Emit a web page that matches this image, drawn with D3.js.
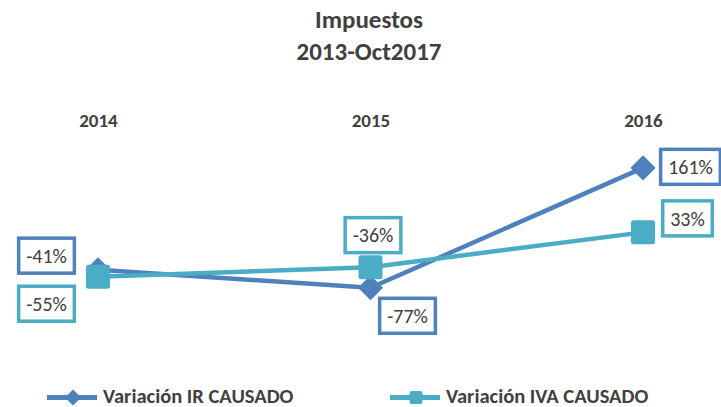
<!DOCTYPE html>
<html><head><meta charset="utf-8">
<script src="https://cdn.jsdelivr.net/npm/d3@7"></script>
<style>
body{margin:0;background:#fff;}
svg{display:block;font-family:Carlito,Calibri,Lato,"Open Sans",sans-serif;}
</style></head><body>
<svg id="c" width="721" height="407"></svg>
<script>
const categories = ["2014","2015","2016"];
const seriesNames = ["Variación IR CAUSADO","Variación IVA CAUSADO"];
const irValues = [-41, -77, 161];
const ivaValues = [-55, -36, 33];
const titleLines = ["Impuestos","2013-Oct2017"];

const colors = ["#4F81BD","#4BACC6"];
const textColor = "#404040";
// label box center offsets from the point (layout only)
const labelOffsets = [
  [[-51.5,-14],[37,28],[47.5,-1]],
  [[-51.5,27],[2.5,-32],[44.5,-14]]
];

const svg = d3.select("#c");
const x = d3.scalePoint().domain(categories).range([98,643]);
const y = d3.scaleLinear().domain([-100,200]).range([299.4,148.2]);

// title
svg.append("text").attr("x",369).attr("y",28).attr("text-anchor","middle")
  .attr("font-size",25).attr("font-weight","bold").attr("fill",textColor).text(titleLines[0]);
svg.append("text").attr("x",369).attr("y",60).attr("text-anchor","middle")
  .attr("font-size",25).attr("font-weight","bold").attr("fill",textColor).text(titleLines[1]);

// category axis at top
const ax = svg.append("g").attr("transform","translate(0,127)")
  .call(d3.axisTop(x).tickSize(0).tickPadding(0));
ax.select(".domain").remove();
ax.selectAll("text").attr("font-size",19).attr("font-weight","bold").attr("fill",textColor)
  .attr("font-family","Carlito,Calibri,Lato,sans-serif");

const series = [irValues, ivaValues];
const line = d3.line().x((d,i)=>x(categories[i])).y(d=>y(d));

function marker(g, type, cx, cy, color, s){
  if(type===0){
    g.append("path").attr("d",`M${cx},${cy-s}L${cx+s},${cy}L${cx},${cy+s}L${cx-s},${cy}Z`)
      .attr("fill",color).attr("stroke",color).attr("stroke-width",1.5).attr("stroke-linejoin","round");
  } else {
    g.append("rect").attr("x",cx-s).attr("y",cy-s).attr("width",2*s).attr("height",2*s)
      .attr("rx",2.5).attr("fill",color);
  }
}

series.forEach((vals,si)=>{
  const g = svg.append("g");
  g.append("path").datum(vals).attr("d",line).attr("fill","none")
    .attr("stroke",colors[si]).attr("stroke-width",4.5).attr("stroke-linejoin","round");
  vals.forEach((v,i)=>{
    marker(g, si, x(categories[i]), y(v), colors[si], si===0?11.5:12);
  });
});

// labels
series.forEach((vals,si)=>{
  vals.forEach((v,i)=>{
    const px = x(categories[i]), py = y(v);
    const [dx,dy] = labelOffsets[si][i];
    const cx = px+dx, cy = py+dy;
    const g = svg.append("g");
    const r = g.append("rect");
    const t = g.append("text").attr("x",cx).attr("y",cy).attr("dy","0.36em").attr("text-anchor","middle")
      .attr("font-size",20).attr("fill",textColor).text(v+"%");
    const w = t.node().getComputedTextLength()+15, h = 35;
    r.attr("x",cx-w/2).attr("y",cy-h/2).attr("width",w).attr("height",h)
      .attr("fill","#fff").attr("stroke",colors[si]).attr("stroke-width",3.5);
  });
});

// legend
const legendX = [47,390];
seriesNames.forEach((n,si)=>{
  const g = svg.append("g").attr("transform",`translate(${legendX[si]},397.5)`);
  g.append("line").attr("x1",0).attr("x2",50).attr("stroke",colors[si]).attr("stroke-width",5);
  marker(g, si, 26, 0, colors[si], si===0?7:6.5);
  g.append("text").attr("x",56).attr("y",5).attr("font-size",20.5)
    .attr("font-weight","bold").attr("fill",textColor).text(n);
});
</script></body></html>
